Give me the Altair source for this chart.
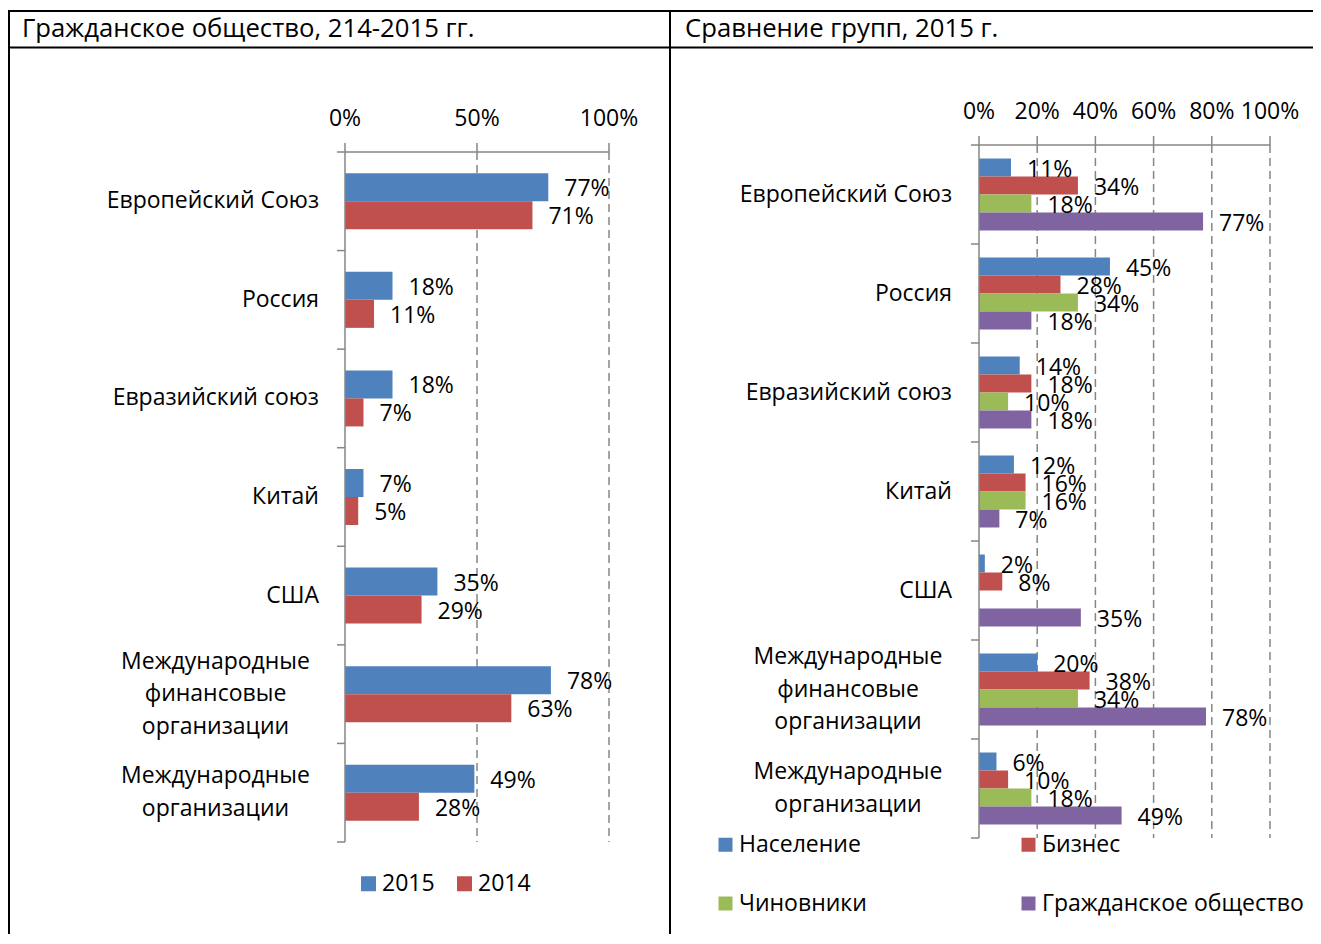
import altair as alt
import pandas as pd

# ---------------- data ----------------
categories = ["Европейский Союз", "Россия", "Евразийский союз", "Китай", "США",
              "Международные\nфинансовые\nорганизации", "Международные\nорганизации"]

years = ["2015", "2014"]
civil_2015 = [77, 18, 18, 7, 35, 78, 49]
civil_2014 = [71, 11, 7, 5, 29, 63, 28]

groups = ["Население", "Бизнес", "Чиновники", "Гражданское общество"]
population = [11, 45, 14, 12, 2, 20, 6]
business = [34, 28, 18, 16, 8, 38, 10]
officials = [18, 34, 10, 16, None, 34, 18]
civil_2015_group = [77, 18, 18, 7, 35, 78, 49]

left_ticks = [0, 50, 100]
right_ticks = [0, 20, 40, 60, 80, 100]

title_left = "Гражданское общество, 214-2015 гг."
title_right = "Сравнение групп, 2015 г."

colors_years = ["#4F81BD", "#C0504D"]
colors_groups = ["#4F81BD", "#C0504D", "#9BBB59", "#8064A2"]

FONT = "Open Sans"
GRAY = "#868686"
FS = 23
TITLE_FS = 25.7
LINE_H = 32.5


def long_table(series_names, series_values):
    rows = []
    for name, vals in zip(series_names, series_values):
        for cat, v in zip(categories, vals):
            if v is not None:
                rows.append({"cat": cat, "series": name, "value": v})
    return pd.DataFrame(rows)


left_df = long_table(years, [civil_2015, civil_2014])
right_df = long_table(groups, [population, business, officials, civil_2015_group])
cat_df = pd.DataFrame({"cat": categories,
                       "nlines": [len(c.split("\n")) for c in categories]})
one = pd.DataFrame({"k": [0]})


def panel(df, series_order, colors, x_range, y_range, ticks, pad_outer,
          label_right_x, label_center_x, legend):
    x_scale = alt.Scale(domain=[ticks[0], ticks[-1]], range=x_range, nice=False)
    y_scale = alt.Scale(domain=categories, range=y_range, paddingInner=0, paddingOuter=0)
    off_scale = alt.Scale(domain=series_order, paddingInner=0, paddingOuter=pad_outer)

    X = alt.X("value:Q", scale=x_scale, axis=None)
    Y = alt.Y("cat:N", scale=y_scale, axis=None, sort=None)
    OFF = alt.YOffset("series:N", scale=off_scale, sort=None)

    x0 = x_range[0]
    ytop, ybot = y_range

    tick_df = pd.DataFrame({"value": ticks})
    ext_df = pd.DataFrame({"value": [ticks[0]], "value2": [ticks[-1]]})

    grid = alt.Chart(pd.DataFrame({"value": ticks[1:]})).mark_rule(
        strokeDash=[8, 5], color=GRAY, strokeWidth=1.5
    ).encode(x=X, y=alt.value(ytop), y2=alt.value(ybot))

    bars = alt.Chart(df).mark_bar().encode(
        x=X, y=Y, yOffset=OFF,
        color=alt.Color("series:N", scale=alt.Scale(domain=series_order, range=colors),
                        legend=legend),
    )

    # x axis (top)
    x_domain = alt.Chart(ext_df).mark_rule(color=GRAY, strokeWidth=1.5).encode(
        x=X, x2="value2:Q", y=alt.value(ytop))
    x_ticks = alt.Chart(tick_df).mark_rule(color=GRAY, strokeWidth=1.5).encode(
        x=X, y=alt.value(ytop - 9), y2=alt.value(ytop))
    x_labels = alt.Chart(tick_df).transform_calculate(lbl="datum.value + '%'").mark_text(
        align="center", baseline="alphabetic", font=FONT, fontSize=FS, color="black"
    ).encode(x=X, y=alt.value(ytop - 26), text="lbl:N")

    # y axis (left)
    y_domain = alt.Chart(ext_df).mark_rule(color=GRAY, strokeWidth=1.5).encode(
        x=X, y=alt.value(ytop), y2=alt.value(ybot))
    y_ticks = alt.Chart(cat_df).mark_rule(color=GRAY, strokeWidth=1.5).encode(
        x=alt.value(x0 - 8), x2=alt.value(x0),
        y=alt.Y("cat:N", scale=y_scale, axis=None, sort=None, bandPosition=0))
    y_tick_end = alt.Chart(cat_df).transform_filter(
        alt.FieldEqualPredicate(field="cat", equal=categories[-1])
    ).mark_rule(color=GRAY, strokeWidth=1.5).encode(
        x=alt.value(x0 - 8), x2=alt.value(x0),
        y=alt.Y("cat:N", scale=y_scale, axis=None, sort=None, bandPosition=1))

    values = alt.Chart(df).transform_calculate(lbl="datum.value + '%'").mark_text(
        align="left", baseline="middle", dx=16, dy=2, font=FONT, fontSize=FS, color="black"
    ).encode(x=X, y=Y, yOffset=OFF, text="lbl:N")

    cats_single = alt.Chart(cat_df).transform_filter("datum.nlines == 1").mark_text(
        align="right", baseline="middle", font=FONT, fontSize=FS, color="black"
    ).encode(x=alt.value(label_right_x), y=Y, text="cat:N")

    cats_two = alt.Chart(cat_df).transform_filter("datum.nlines == 2").mark_text(
        align="center", baseline="middle", font=FONT, fontSize=FS, color="black",
        lineBreak="\n", lineHeight=LINE_H, dy=-LINE_H / 2
    ).encode(x=alt.value(label_center_x), y=Y, text="cat:N")

    cats_three = alt.Chart(cat_df).transform_filter("datum.nlines == 3").mark_text(
        align="center", baseline="middle", font=FONT, fontSize=FS, color="black",
        lineBreak="\n", lineHeight=LINE_H, dy=-LINE_H
    ).encode(x=alt.value(label_center_x), y=Y, text="cat:N")

    return alt.layer(grid, bars, x_domain, x_ticks, x_labels, y_domain, y_ticks,
                     y_tick_end, values, cats_single, cats_two, cats_three)


legend_left = alt.Legend(orient="none", legendX=349, legendY=864, direction="horizontal",
                         title=None, symbolType="square", symbolSize=225,
                         symbolStrokeWidth=0, symbolOpacity=1, labelFont=FONT,
                         labelFontSize=FS, labelColor="black", labelOffset=2,
                         columnPadding=18, padding=0)
legend_right = alt.Legend(orient="none", legendX=706, legendY=825, direction="horizontal",
                          columns=2, title=None, symbolType="square", symbolSize=196,
                          symbolStrokeWidth=0, symbolOpacity=1, labelFont=FONT,
                          labelFontSize=FS, labelColor="black", labelOffset=2,
                          columnPadding=150, rowPadding=35, padding=0, labelLimit=500)

left_panel = panel(left_df, years, colors_years, [337, 601], [144, 834], left_ticks, 0.76,
                   311, 207.5, legend_left)
right_panel = panel(right_df, groups, colors_groups, [971, 1262], [137, 830], right_ticks, 0.75,
                    944, 840, legend_right)


# table frame
def hline(y, x1, x2, w=2):
    return alt.Chart(one).mark_rule(color="black", strokeWidth=w).encode(
        x=alt.value(x1), x2=alt.value(x2), y=alt.value(y))


def vline(x, y1, y2, w=2):
    return alt.Chart(one).mark_rule(color="black", strokeWidth=w).encode(
        x=alt.value(x), y=alt.value(y1), y2=alt.value(y2))


frame = [hline(3, 0, 1313), hline(39.5, 0, 1313), vline(1, 3, 940), vline(662, 3, 940)]

titles = [
    alt.Chart(pd.DataFrame({"t": [title_left]})).mark_text(
        align="left", baseline="middle", font=FONT, fontSize=TITLE_FS, color="black"
    ).encode(text="t:N", x=alt.value(14), y=alt.value(21)),
    alt.Chart(pd.DataFrame({"t": [title_right]})).mark_text(
        align="left", baseline="middle", font=FONT, fontSize=TITLE_FS, color="black"
    ).encode(text="t:N", x=alt.value(677), y=alt.value(21)),
]

chart = alt.layer(*frame, *titles, left_panel, right_panel).resolve_scale(
    x="independent", y="independent", color="independent", yOffset="independent"
).properties(
    width=1305, height=926, autosize=alt.AutoSizeParams(type="none"), padding=0
).configure_view(stroke=None)

chart.save("out.html", embed_options={"renderer": "svg", "actions": False})
